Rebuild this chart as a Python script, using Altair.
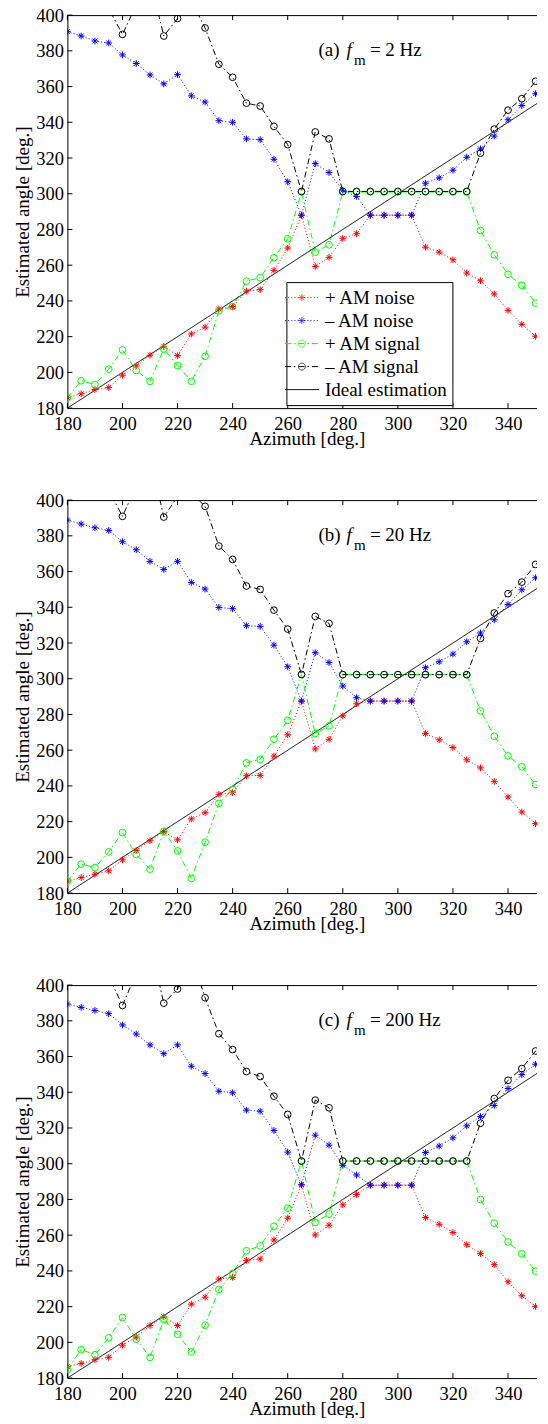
import altair as alt
import pandas as pd

FONT = "Liberation Serif"

# ---------------- data ----------------
AZIMUTH = [180, 185, 190, 195, 200, 205, 210, 215, 220, 225, 230, 235, 240, 245, 250,
           255, 260, 265, 270, 275, 280, 285, 290, 295, 300, 305, 310, 315, 320, 325,
           330, 335, 340, 345, 350, 355]

SERIES = ["+ AM noise", "\u2013 AM noise", "+ AM signal", "\u2013 AM signal"]
IDEAL_LABEL = "Ideal estimation"
IDEAL_AZ = [180, 360]
IDEAL_VAL = [180, 360]

X_TICKS = [180, 200, 220, 240, 260, 280, 300, 320, 340]
Y_TICKS = [180, 200, 220, 240, 260, 280, 300, 320, 340, 360, 380, 400]

PANEL_TAGS = ["(a)", "(b)", "(c)"]
FM_TEXT = ["= 2 Hz", "= 20 Hz", "= 200 Hz"]

# panel (a) f_m = 2 Hz
red_a = [185.8, 188.0, 190.4, 191.5, 198.4, 203.6, 209.6, 214.6, 209.4, 221.5,
         225.3, 235.5, 236.8, 245.5, 246.3, 257.1, 269.6, 288.0, 259.3, 264.4,
         275.0, 277.6, 288.0, 288.0, 288.0, 288.0, 270.1, 267.3, 263.0, 255.6,
         251.3, 243.9, 234.7, 226.9, 220.2, 216.0]
blue_a = [390.7, 388.3, 385.5, 384.4, 377.7, 372.9, 366.5, 361.5, 366.7, 354.8,
          351.3, 340.9, 340.0, 330.7, 330.3, 319.3, 306.7, 288.0, 316.9, 311.9,
          302.0, 298.5, 288.0, 288.0, 288.0, 288.0, 305.9, 308.9, 313.2, 320.4,
          325.1, 332.3, 341.4, 349.4, 356.0, 361.0]
green_a = [185.8, 195.3, 193.2, 201.8, 212.6, 201.1, 195.0, 213.1, 203.8, 195.0,
           209.0, 234.4, 236.8, 251.1, 253.0, 264.2, 274.8, 301.0, 267.3, 271.4,
           301.0, 301.0, 301.0, 301.0, 301.0, 301.0, 301.0, 301.0, 301.0, 301.0,
           279.4, 265.8, 254.9, 248.7, 238.8, 234.0]
black_a = [430.0, 425.0, 415.0, 403.7, 389.2, 405.7, 420.0, 388.3, 398.1, 408.0,
           392.8, 372.5, 365.2, 350.7, 349.1, 337.7, 327.5, 301.3, 334.6, 330.7,
           301.3, 301.3, 301.3, 301.3, 301.3, 301.3, 301.3, 301.3, 301.3, 301.3,
           322.7, 336.2, 346.8, 353.2, 363.0, 367.0]

# panel (b) f_m = 20 Hz
red_b = [186.7, 188.7, 190.6, 192.5, 198.6, 203.8, 209.3, 214.4, 209.8, 221.5,
         225.0, 235.3, 236.2, 245.7, 245.9, 256.7, 268.6, 287.5, 260.7, 266.1,
         279.2, 286.0, 287.5, 287.5, 287.5, 287.5, 269.3, 265.8, 261.5, 254.6,
         250.1, 242.5, 233.8, 225.4, 218.9, 216.0]
blue_b = [388.8, 386.6, 384.5, 383.0, 376.7, 372.2, 365.7, 361.2, 365.7, 353.9,
          350.2, 339.9, 339.2, 329.7, 329.3, 318.8, 306.7, 287.5, 314.6, 309.1,
          295.9, 289.4, 287.5, 287.5, 287.5, 287.5, 306.2, 309.5, 313.8, 320.7,
          325.6, 333.0, 341.6, 349.8, 356.5, 361.0]
green_b = [186.7, 196.2, 194.3, 203.1, 213.9, 201.6, 193.4, 214.6, 203.6, 188.2,
           208.5, 230.2, 238.0, 252.9, 254.8, 266.1, 276.7, 302.3, 269.3, 273.6,
           302.3, 302.3, 302.3, 302.3, 302.3, 302.3, 302.3, 302.3, 302.3, 302.3,
           282.0, 267.8, 256.8, 250.7, 240.8, 236.0]
black_b = [430.0, 425.0, 418.0, 405.6, 390.9, 408.0, 425.0, 390.5, 402.0, 404.0,
           396.5, 374.3, 366.8, 351.9, 350.0, 338.4, 327.8, 302.4, 334.9, 331.0,
           302.3, 302.3, 302.3, 302.3, 302.3, 302.3, 302.3, 302.3, 302.3, 302.3,
           322.6, 336.8, 347.6, 354.1, 364.0, 369.0]

# panel (c) f_m = 200 Hz
red_c = [186.4, 188.2, 190.3, 191.6, 198.4, 203.0, 209.4, 214.3, 209.4, 221.4,
         225.3, 235.4, 236.4, 245.9, 246.7, 257.3, 269.5, 288.2, 260.1, 265.6,
         277.0, 282.8, 288.0, 288.0, 288.0, 288.0, 269.9, 266.1, 261.5, 254.7,
         249.7, 243.5, 233.9, 226.1, 220.1, 218.4]
blue_c = [389.4, 387.5, 385.8, 384.0, 377.7, 372.6, 366.5, 361.6, 366.5, 354.6,
          350.5, 340.6, 339.7, 330.0, 329.4, 318.6, 306.5, 288.2, 316.0, 310.4,
          299.1, 293.7, 288.0, 288.0, 288.0, 288.0, 306.3, 309.9, 314.5, 321.2,
          326.4, 332.6, 342.1, 349.9, 355.7, 357.7]
green_c = [184.7, 195.9, 193.1, 202.5, 213.9, 201.8, 191.6, 212.8, 204.5, 194.6,
           209.6, 229.6, 238.6, 251.3, 254.0, 265.0, 275.1, 301.5, 267.1, 271.8,
           301.5, 301.5, 301.5, 301.5, 301.5, 301.5, 301.5, 301.5, 301.5, 301.5,
           280.0, 266.7, 256.2, 249.5, 239.9, 236.2]
black_c = [430.0, 425.0, 418.0, 404.9, 388.6, 406.7, 423.6, 389.9, 397.8, 416.7,
           392.9, 372.8, 363.9, 351.6, 348.8, 337.8, 327.6, 301.5, 335.6, 331.3,
           301.5, 301.5, 301.5, 301.5, 301.5, 301.5, 301.5, 301.5, 301.5, 301.5,
           322.7, 336.5, 346.7, 353.3, 363.1, 366.7]

PANELS = [
    [red_a, blue_a, green_a, black_a],
    [red_b, blue_b, green_b, black_b],
    [red_c, blue_c, green_c, black_c],
]

# ---------------- styling ----------------
W = 479          # plot width (right frame falls just outside the page, as in the source)
H = 393
SPACING = 92
X_MAX = 180 + W / 2.754
ALL = SERIES + [IDEAL_LABEL]
COLORS = ["#ff0000", "#0000ff", "#00ff00", "#000000", "#000000"]
DASHES = [[1, 2.2], [1, 2.2], [6, 3, 1.5, 3], [6, 3, 1.5, 3], [1, 0]]
ASTER = "M0,-1V1M-1,0H1M-0.71,-0.71L0.71,0.71M-0.71,0.71L0.71,-0.71"
POINT_SHAPES = [ASTER, ASTER, "circle", "circle"]

LEG_LINE = "M-1.7,0H1.7"
LEG_ASTER = "M0,-0.35V0.35M-0.35,0H0.35M-0.25,-0.25L0.25,0.25M-0.25,0.25L0.25,-0.25"
LEG_CIRC = "M0.35,0A0.35,0.35,0,1,1,-0.35,0A0.35,0.35,0,1,1,0.35,0Z"
LEG_NONE = "M0,0"
LEG_SHAPES = [LEG_ASTER, LEG_ASTER, LEG_CIRC, LEG_CIRC, LEG_NONE]

LEG_X = 219
LEG_Y = 267

xscale = alt.Scale(domain=[180, X_MAX], nice=False, zero=False)
yscale = alt.Scale(domain=[180, 400], nice=False, zero=False)
x_axis = alt.Axis(values=X_TICKS, title="Azimuth [deg.]")
y_axis = alt.Axis(values=Y_TICKS, title="Estimated angle [deg.]")


def xenc(field):
    return alt.X(field, type="quantitative", scale=xscale, axis=x_axis)


def yenc(field):
    return alt.Y(field, type="quantitative", scale=yscale, axis=y_axis)


def legend_common(**kw):
    return alt.Legend(orient="none", legendX=LEG_X, legendY=LEG_Y, title=None,
                      symbolSize=400, symbolStrokeWidth=1,
                      labelFont=FONT, labelFontSize=19, labelColor="black",
                      labelOffset=12.5, padding=5, rowPadding=2, labelLimit=300, **kw)


def panel(idx, with_legend):
    rows = []
    for name, vals in zip(SERIES, PANELS[idx]):
        for az, v in zip(AZIMUTH, vals):
            rows.append({"series": name, "az": az, "val": v})
    for az, v in zip(IDEAL_AZ, IDEAL_VAL):
        rows.append({"series": IDEAL_LABEL, "az": az, "val": v})
    df = pd.DataFrame(rows)

    if with_legend:
        leg1 = legend_common(symbolType=LEG_LINE, fillColor="white",
                             strokeColor="black", zindex=0)
    else:
        leg1 = None

    lines = alt.Chart(df).mark_line(clip=True, strokeWidth=1).encode(
        x=xenc("az"), y=yenc("val"),
        color=alt.Color("series:N", scale=alt.Scale(domain=ALL, range=COLORS),
                        legend=leg1, sort=ALL),
        strokeDash=alt.StrokeDash("series:N", scale=alt.Scale(domain=ALL, range=DASHES),
                                  legend=leg1, sort=ALL),
    )

    points = alt.Chart(df).transform_filter(
        alt.datum.series != IDEAL_LABEL
    ).mark_point(clip=True, filled=False, strokeWidth=1, size=45, opacity=1).encode(
        x=xenc("az"), y=yenc("val"),
        color=alt.Color("series:N", scale=alt.Scale(domain=SERIES, range=COLORS[:4]),
                        legend=None),
        shape=alt.Shape("series:N", scale=alt.Scale(domain=SERIES, range=POINT_SHAPES),
                        legend=None),
    )

    xt = pd.DataFrame({"t": X_TICKS})
    yt = pd.DataFrame({"t": Y_TICKS})
    rule = dict(color="black", strokeWidth=1)
    tick_b = alt.Chart(xt).mark_rule(**rule).encode(
        x=xenc("t"), y=alt.value(H), y2=alt.value(H - 5))
    tick_t = alt.Chart(xt).mark_rule(**rule).encode(
        x=xenc("t"), y=alt.value(0), y2=alt.value(5))
    tick_l = alt.Chart(yt).mark_rule(**rule).encode(
        y=yenc("t"), x=alt.value(0), x2=alt.value(5))
    tick_r = alt.Chart(yt).mark_rule(**rule).encode(
        y=yenc("t"), x=alt.value(W), x2=alt.value(W - 5))

    tdict = dict(font=FONT, color="black", align="left", baseline="alphabetic")
    t_tag = alt.Chart(alt.Data(values=[{"s": PANEL_TAGS[idx]}])).mark_text(
        fontSize=19, **tdict).encode(text="s:N", x=alt.value(251), y=alt.value(41))
    t_f = alt.Chart(alt.Data(values=[{"s": "f"}])).mark_text(
        fontSize=19, fontStyle="italic", **tdict).encode(
        text="s:N", x=alt.value(279), y=alt.value(41))
    t_m = alt.Chart(alt.Data(values=[{"s": "m"}])).mark_text(
        fontSize=15, **tdict).encode(text="s:N", x=alt.value(286.5), y=alt.value(49.5))
    t_fm = alt.Chart(alt.Data(values=[{"s": FM_TEXT[idx]}])).mark_text(
        fontSize=19, **tdict).encode(text="s:N", x=alt.value(302.5), y=alt.value(41))

    layers = [lines, points, tick_b, tick_t, tick_l, tick_r, t_tag, t_f, t_m, t_fm]

    if with_legend:
        leg2 = legend_common(labelOpacity=0, zindex=1)
        marker_leg = alt.Chart(alt.Data(values=[{"sm": s} for s in ALL])).transform_filter(
            "false"
        ).mark_point(filled=False, strokeWidth=1).encode(
            color=alt.Color("sm:N", scale=alt.Scale(domain=ALL, range=COLORS),
                            legend=leg2, sort=ALL),
            shape=alt.Shape("sm:N", scale=alt.Scale(domain=ALL, range=LEG_SHAPES),
                            legend=leg2, sort=ALL),
        )
        layers.append(marker_leg)

    return alt.layer(*layers).resolve_scale(
        color="independent", shape="independent", strokeDash="independent"
    ).properties(width=W, height=H)


# default "pad" autosizing; padding tuned so the first plot's corner lands at
# page (69, 15) and the drawing stays inside the 548 x 1424 page.
chart = alt.vconcat(
    panel(0, True), panel(1, False), panel(2, False), spacing=SPACING, bounds="flush"
).resolve_scale(
    color="independent", shape="independent", strokeDash="independent"
).properties(
    padding={"left": 4.4, "top": -2.9, "right": -10, "bottom": -1},
).configure(
    background="white"
).configure_view(
    stroke="black", strokeWidth=1, fill="white"
).configure_axis(
    labelFont=FONT, labelFontSize=18.5, labelColor="black",
    titleFont=FONT, titleFontSize=19, titleFontWeight="normal", titleColor="black",
    grid=False, domain=False, ticks=False, tickSize=0,
    labelFlush=False, labelOverlap=False,
).configure_axisX(
    labelPadding=6, titlePadding=-3
).configure_axisY(
    labelPadding=4, titlePadding=3.5
)

chart.save("out.html", embed_options={"renderer": "svg", "actions": False})
